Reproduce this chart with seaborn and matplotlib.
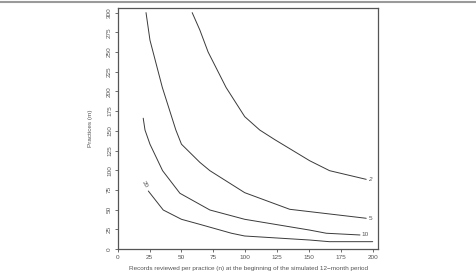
import matplotlib
matplotlib.use("Agg")
import matplotlib.pyplot as plt
import seaborn as sns
import pandas as pd
from matplotlib.lines import Line2D

sns.set_theme(style="white")
plt.rcParams['font.family'] = ['Liberation Sans', 'DejaVu Sans']

# contour levels and their polylines (records n, practices m)
levels = ["2", "5", "10", "20"]
x_2 = [58.4, 64.4, 70.9, 85.0, 99.6, 111.4, 123.0, 150.6, 166.2, 194.9]
y_2 = [300, 278, 250, 205, 168, 151, 139, 112, 99.4, 88.4]
x_5 = [22.2, 25.3, 35.0, 45.6, 50.0, 64.4, 72.3, 99.6, 134.9, 194.9]
y_5 = [300, 265, 205, 151, 133, 110, 99.4, 71.5, 50.4, 39.0]
x_10 = [20.0, 21.4, 25.3, 35.2, 48.8, 72.3, 99.6, 150.6, 163.6, 190.0]
y_10 = [166, 151, 133, 99.4, 70.7, 49.5, 37.7, 24.0, 20.0, 17.8]
x_20 = [24.0, 35.7, 50.0, 64.4, 89.2, 99.6, 150.6, 166.0, 200.0]
y_20 = [73.6, 49.5, 37.7, 31.3, 20.0, 16.5, 11.4, 9.3, 9.3]

xticks = [0, 25, 50, 75, 100, 125, 150, 175, 200]
yticks = [0, 25, 50, 75, 100, 125, 150, 175, 200, 225, 250, 275, 300]

fig = plt.figure(figsize=(4.76, 2.73), dpi=100)
ax = fig.add_axes([0.2473, 0.0879, 0.5475, 0.8817])

curves = [(x_2, y_2), (x_5, y_5), (x_10, y_10), (x_20, y_20)]
lc = "#3a3a3a"
for (xs, ys) in curves:
    df = pd.DataFrame({"n": xs, "m": ys})
    sns.lineplot(data=df, x="n", y="m", sort=False, estimator=None,
                 color=lc, linewidth=0.7, ax=ax)

# contour labels
fs = 4.6
tc = "#555555"
ax.text(196.5, 88.4, "2", fontsize=fs, color=tc, va="center", ha="left", style="italic")
ax.text(196.5, 39.0, "5", fontsize=fs, color=tc, va="center", ha="left")
ax.text(191.5, 17.8, "10", fontsize=fs, color=tc, va="center", ha="left")
ax.text(21.5, 82, "20", fontsize=fs, color=tc, va="center", ha="center", rotation=-60)

ax.set_xlim(0, 204.4)
ax.set_ylim(0, 305.5)
ax.set_xticks(xticks)
ax.set_yticks(yticks)
ax.set_xticklabels([str(t) for t in xticks], fontsize=fs, color=tc)
ax.set_yticklabels([str(t) for t in yticks], fontsize=fs, color=tc, rotation=90, va="center")
ax.tick_params(axis="both", length=2.5, width=0.6, color="#555555", pad=1.5, direction="out")
ax.tick_params(bottom=True, left=True)
ax.set_xlabel("Records reviewed per practice (n) at the beginning of the simulated 12\u2212month period",
              fontsize=fs, color=tc)
ax.set_ylabel("Practices (m)", fontsize=fs, color=tc)
ax.xaxis.set_label_coords(0.5, -0.0706)
ax.yaxis.set_label_coords(-0.095, 0.5)
for s in ax.spines.values():
    s.set_color("#555555")
    s.set_linewidth(0.9)

# top rule across the figure
fig.add_artist(Line2D([0, 1], [1 - 1.7 / 273, 1 - 1.7 / 273], transform=fig.transFigure,
                      color="#9a9a9a", linewidth=1.5))

fig.savefig("out.png", dpi=100)
